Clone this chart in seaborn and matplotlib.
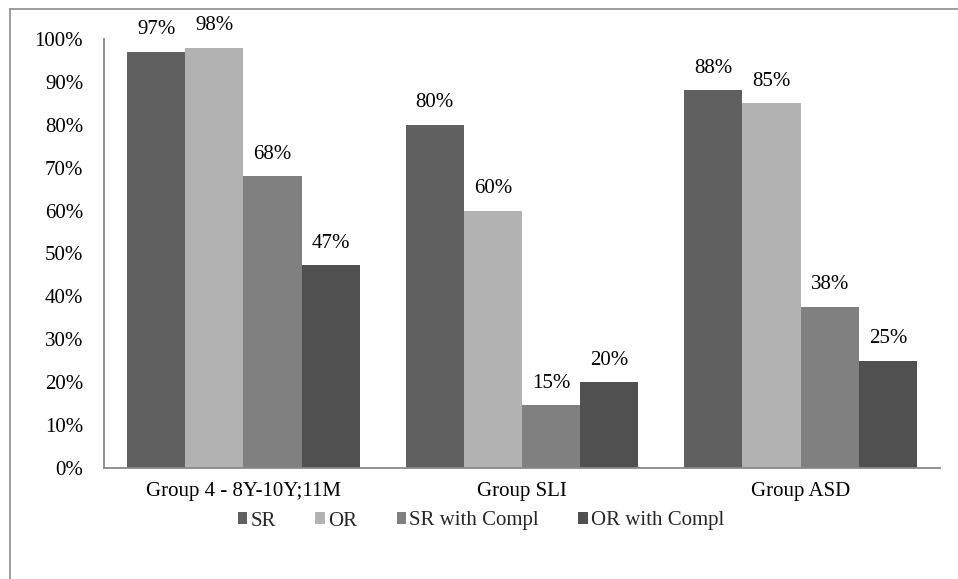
import pandas as pd
import matplotlib.pyplot as plt
import seaborn as sns
from matplotlib.lines import Line2D

groups = ['Group 4 - 8Y-10Y;11M', 'Group SLI', 'Group ASD']
series = ['SR', 'OR', 'SR with Compl', 'OR with Compl']
sr = [97, 80, 88]
orr = [98, 60, 85]
sr_compl = [68, 14.6, 37.6]
or_compl = [47.3, 20, 25]
colors = ['#606060', '#b2b2b2', '#808080', '#505050']

df = pd.DataFrame({
    'group': groups * 4,
    'series': [s for s in series for _ in groups],
    'value': sr + orr + sr_compl + or_compl,
})

sns.set_theme(style='white')
plt.rcParams['font.family'] = ['Liberation Serif', 'DejaVu Serif']
fs = 15

fig = plt.figure(figsize=(9.58, 5.79), dpi=100)
ax = fig.add_axes([104 / 958, 111 / 579, 836 / 958, 429 / 579])

sns.barplot(
    data=df, x='group', y='value', hue='series', hue_order=series,
    order=groups, palette=colors, width=0.835, gap=0, ax=ax,
    saturation=1, errorbar=None, linewidth=0,
)

for cont in ax.containers:
    ax.bar_label(cont, labels=[f'{v:.0f}%' for v in cont.datavalues],
                 padding=9, fontsize=fs, color='black')

ax.set_ylim(0, 100)
ax.set_yticks(range(0, 101, 10))
ax.set_yticklabels([f'{v}%' for v in range(0, 101, 10)])
ax.set_xlim(-0.5, 2.5)
ax.set_xlabel('')
ax.set_ylabel('')
ax.tick_params(axis='y', length=0, pad=15, labelsize=fs, labelcolor='black')
ax.tick_params(axis='x', length=0, pad=10, labelsize=fs, labelcolor='black')

for side in ['top', 'right']:
    ax.spines[side].set_visible(False)
for side in ['left', 'bottom']:
    ax.spines[side].set_color('#898989')
    ax.spines[side].set_linewidth(1.3)

handles, labels = ax.get_legend_handles_labels()
ax.legend(handles, labels, loc='center', bbox_to_anchor=(481 / 958, 1 - 521 / 579),
          bbox_transform=fig.transFigure, ncol=4, frameon=False, fontsize=fs,
          handlelength=0.45, handleheight=0.45, handletextpad=0.15, columnspacing=1.9)

# outer chart border (left and top edges visible in the crop)
fig.add_artist(Line2D([10 / 958, 10 / 958], [0, 1 - 9 / 579], transform=fig.transFigure,
                      color='#8c8c8c', lw=1.2))
fig.add_artist(Line2D([10 / 958, 1], [1 - 9 / 579, 1 - 9 / 579], transform=fig.transFigure,
                      color='#8c8c8c', lw=1.2))

fig.savefig('out.png', dpi=100)
